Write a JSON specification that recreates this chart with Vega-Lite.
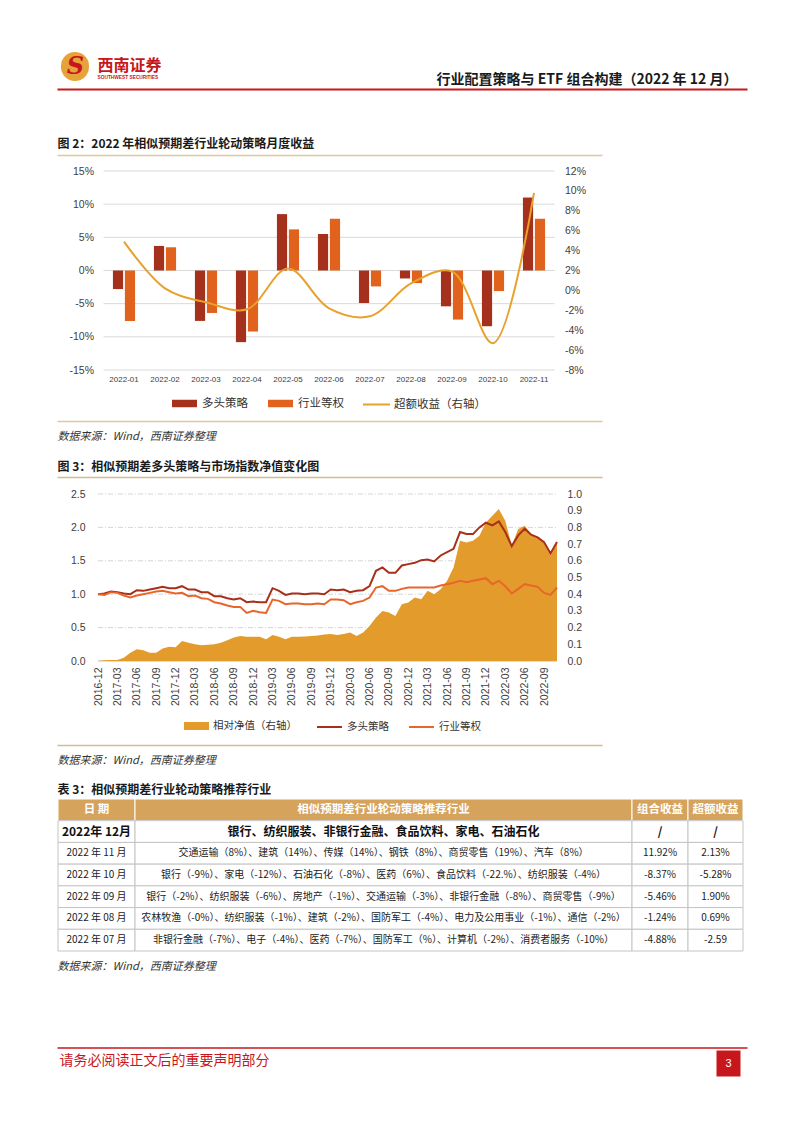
{
  "$schema": "https://vega.github.io/schema/vega-lite/v6.json",
  "width": 802,
  "height": 1133,
  "autosize": {"type": "none"},
  "padding": 0,
  "background": "#ffffff",
  "config": {
    "view": {"stroke": null},
    "font": "Noto Sans CJK SC",
    "axis": {"grid": false, "ticks": false, "tickSize": 0, "domain": false, "labelFont": "Liberation Sans", "labelColor": "#404040", "titleFont": "Noto Sans CJK SC", "titleAngle": 0},
    "legend": {"labelFont": "Noto Sans CJK SC", "labelColor": "#333333", "padding": 0}
  },
  "resolve": {
    "scale": {"x": "independent", "y": "independent", "color": "independent"},
    "axis": {"x": "independent", "y": "independent"},
    "legend": {"color": "independent"}
  },
  "datasets": {
    "unit": [{"u": 0}, {"u": 1}],
    "fig2grid": [{"v": -15}, {"v": -10}, {"v": -5}, {"v": 0}, {"v": 5}, {"v": 10}, {"v": 15}],
    "fig3grid": [{"v": 0}, {"v": 0.5}, {"v": 1}, {"v": 1.5}, {"v": 2}, {"v": 2.5}],
    "fig2": [
      {"m": "2022-01", "多头策略": -2.8, "行业等权": -7.6, "超额收益（右轴）": 4.9},
      {"m": "2022-02", "多头策略": 3.7, "行业等权": 3.5, "超额收益（右轴）": 0.2},
      {"m": "2022-03", "多头策略": -7.6, "行业等权": -6.4, "超额收益（右轴）": -1.2},
      {"m": "2022-04", "多头策略": -10.8, "行业等权": -9.2, "超额收益（右轴）": -1.9},
      {"m": "2022-05", "多头策略": 8.5, "行业等权": 6.2, "超额收益（右轴）": 2.2},
      {"m": "2022-06", "多头策略": 5.5, "行业等权": 7.8, "超额收益（右轴）": -1.8},
      {"m": "2022-07", "多头策略": -4.9, "行业等权": -2.4, "超额收益（右轴）": -2.6},
      {"m": "2022-08", "多头策略": -1.2, "行业等权": -1.9, "超额收益（右轴）": 0.7},
      {"m": "2022-09", "多头策略": -5.4, "行业等权": -7.4, "超额收益（右轴）": 1.9},
      {"m": "2022-10", "多头策略": -8.4, "行业等权": -3.1, "超额收益（右轴）": -5.3},
      {"m": "2022-11", "多头策略": 11.0, "行业等权": 7.8, "超额收益（右轴）": 9.8}
    ],
    "fig3": [
      {"d": "2016-12", "多头策略": 1.00, "行业等权": 1.00, "相对净值（右轴）": 0.00},
      {"d": "2017-01", "多头策略": 1.01, "行业等权": 0.99, "相对净值（右轴）": 0.005},
      {"d": "2017-02", "多头策略": 1.04, "行业等权": 1.03, "相对净值（右轴）": 0.006},
      {"d": "2017-03", "多头策略": 1.03, "行业等权": 1.02, "相对净值（右轴）": 0.006},
      {"d": "2017-04", "多头策略": 1.01, "行业等权": 0.98, "相对净值（右轴）": 0.02},
      {"d": "2017-05", "多头策略": 1.00, "行业等权": 0.95, "相对净值（右轴）": 0.05},
      {"d": "2017-06", "多头策略": 1.06, "行业等权": 0.98, "相对净值（右轴）": 0.07},
      {"d": "2017-07", "多头策略": 1.05, "行业等权": 1.00, "相对净值（右轴）": 0.065},
      {"d": "2017-08", "多头策略": 1.07, "行业等权": 1.02, "相对净值（右轴）": 0.05},
      {"d": "2017-09", "多头策略": 1.09, "行业等权": 1.04, "相对净值（右轴）": 0.05},
      {"d": "2017-10", "多头策略": 1.11, "行业等权": 1.05, "相对净值（右轴）": 0.075},
      {"d": "2017-11", "多头策略": 1.09, "行业等权": 1.03, "相对净值（右轴）": 0.085},
      {"d": "2017-12", "多头策略": 1.09, "行业等权": 1.01, "相对净值（右轴）": 0.083},
      {"d": "2018-01", "多头策略": 1.12, "行业等权": 1.02, "相对净值（右轴）": 0.12},
      {"d": "2018-02", "多头策略": 1.07, "行业等权": 0.97, "相对净值（右轴）": 0.11},
      {"d": "2018-03", "多头策略": 1.07, "行业等权": 0.98, "相对净值（右轴）": 0.10},
      {"d": "2018-04", "多头策略": 1.03, "行业等权": 0.94, "相对净值（右轴）": 0.095},
      {"d": "2018-05", "多头策略": 1.03, "行业等权": 0.93, "相对净值（右轴）": 0.097},
      {"d": "2018-06", "多头策略": 0.97, "行业等权": 0.88, "相对净值（右轴）": 0.10},
      {"d": "2018-07", "多头策略": 0.97, "行业等权": 0.86, "相对净值（右轴）": 0.11},
      {"d": "2018-08", "多头策略": 0.94, "行业等权": 0.83, "相对净值（右轴）": 0.125},
      {"d": "2018-09", "多头策略": 0.92, "行业等权": 0.81, "相对净值（右轴）": 0.14},
      {"d": "2018-10", "多头策略": 0.94, "行业等权": 0.81, "相对净值（右轴）": 0.15},
      {"d": "2018-11", "多头策略": 0.88, "行业等权": 0.72, "相对净值（右轴）": 0.145},
      {"d": "2018-12", "多头策略": 0.89, "行业等权": 0.75, "相对净值（右轴）": 0.145},
      {"d": "2019-01", "多头策略": 0.88, "行业等权": 0.73, "相对净值（右轴）": 0.145},
      {"d": "2019-02", "多头策略": 0.88, "行业等权": 0.72, "相对净值（右轴）": 0.13},
      {"d": "2019-03", "多头策略": 1.09, "行业等权": 0.92, "相对净值（右轴）": 0.155},
      {"d": "2019-04", "多头策略": 1.05, "行业等权": 0.90, "相对净值（右轴）": 0.145},
      {"d": "2019-05", "多头策略": 0.99, "行业等权": 0.85, "相对净值（右轴）": 0.13},
      {"d": "2019-06", "多头策略": 1.01, "行业等权": 0.86, "相对净值（右轴）": 0.145},
      {"d": "2019-07", "多头策略": 1.01, "行业等权": 0.86, "相对净值（右轴）": 0.145},
      {"d": "2019-08", "多头策略": 1.00, "行业等权": 0.85, "相对净值（右轴）": 0.147},
      {"d": "2019-09", "多头策略": 1.01, "行业等权": 0.85, "相对净值（右轴）": 0.15},
      {"d": "2019-10", "多头策略": 1.01, "行业等权": 0.86, "相对净值（右轴）": 0.152},
      {"d": "2019-11", "多头策略": 1.00, "行业等权": 0.85, "相对净值（右轴）": 0.158},
      {"d": "2019-12", "多头策略": 1.07, "行业等权": 0.92, "相对净值（右轴）": 0.162},
      {"d": "2020-01", "多头策略": 1.06, "行业等权": 0.92, "相对净值（右轴）": 0.155},
      {"d": "2020-02", "多头策略": 1.07, "行业等权": 0.91, "相对净值（右轴）": 0.162},
      {"d": "2020-03", "多头策略": 1.03, "行业等权": 0.85, "相对净值（右轴）": 0.17},
      {"d": "2020-04", "多头策略": 1.05, "行业等权": 0.88, "相对净值（右轴）": 0.15},
      {"d": "2020-05", "多头策略": 1.06, "行业等权": 0.90, "相对净值（右轴）": 0.17},
      {"d": "2020-06", "多头策略": 1.12, "行业等权": 0.95, "相对净值（右轴）": 0.21},
      {"d": "2020-07", "多头策略": 1.35, "行业等权": 1.10, "相对净值（右轴）": 0.26},
      {"d": "2020-08", "多头策略": 1.40, "行业等权": 1.12, "相对净值（右轴）": 0.30},
      {"d": "2020-09", "多头策略": 1.32, "行业等权": 1.05, "相对净值（右轴）": 0.29},
      {"d": "2020-10", "多头策略": 1.32, "行业等权": 1.05, "相对净值（右轴）": 0.27},
      {"d": "2020-11", "多头策略": 1.43, "行业等权": 1.08, "相对净值（右轴）": 0.34},
      {"d": "2020-12", "多头策略": 1.45, "行业等权": 1.10, "相对净值（右轴）": 0.35},
      {"d": "2021-01", "多头策略": 1.47, "行业等权": 1.10, "相对净值（右轴）": 0.38},
      {"d": "2021-02", "多头策略": 1.51, "行业等权": 1.10, "相对净值（右轴）": 0.37},
      {"d": "2021-03", "多头策略": 1.52, "行业等权": 1.10, "相对净值（右轴）": 0.42},
      {"d": "2021-04", "多头策略": 1.49, "行业等权": 1.10, "相对净值（右轴）": 0.40},
      {"d": "2021-05", "多头策略": 1.58, "行业等权": 1.13, "相对净值（右轴）": 0.43},
      {"d": "2021-06", "多头策略": 1.63, "行业等权": 1.15, "相对净值（右轴）": 0.48},
      {"d": "2021-07", "多头策略": 1.68, "行业等权": 1.17, "相对净值（右轴）": 0.56},
      {"d": "2021-08", "多头策略": 1.93, "行业等权": 1.20, "相对净值（右轴）": 0.72},
      {"d": "2021-09", "多头策略": 1.90, "行业等权": 1.18, "相对净值（右轴）": 0.71},
      {"d": "2021-10", "多头策略": 1.90, "行业等权": 1.20, "相对净值（右轴）": 0.72},
      {"d": "2021-11", "多头策略": 2.00, "行业等权": 1.22, "相对净值（右轴）": 0.75},
      {"d": "2021-12", "多头策略": 2.07, "行业等权": 1.24, "相对净值（右轴）": 0.83},
      {"d": "2022-01", "多头策略": 2.03, "行业等权": 1.15, "相对净值（右轴）": 0.87},
      {"d": "2022-02", "多头策略": 2.09, "行业等权": 1.20, "相对净值（右轴）": 0.91},
      {"d": "2022-03", "多头策略": 1.93, "行业等权": 1.12, "相对净值（右轴）": 0.84},
      {"d": "2022-04", "多头策略": 1.72, "行业等权": 1.01, "相对净值（右轴）": 0.69},
      {"d": "2022-05", "多头策略": 1.88, "行业等权": 1.08, "相对净值（右轴）": 0.79},
      {"d": "2022-06", "多头策略": 1.98, "行业等权": 1.15, "相对净值（右轴）": 0.81},
      {"d": "2022-07", "多头策略": 1.89, "行业等权": 1.13, "相对净值（右轴）": 0.76},
      {"d": "2022-08", "多头策略": 1.85, "行业等权": 1.11, "相对净值（右轴）": 0.74},
      {"d": "2022-09", "多头策略": 1.78, "行业等权": 1.02, "相对净值（右轴）": 0.71},
      {"d": "2022-10", "多头策略": 1.61, "行业等权": 0.99, "相对净值（右轴）": 0.63},
      {"d": "2022-11", "多头策略": 1.78, "行业等权": 1.10, "相对净值（右轴）": 0.71}
    ],
    "table": [
      {"k": "日期", "date": "日  期", "ind": "相似预期差行业轮动策略推荐行业", "ret": "组合收益", "exc": "超额收益"},
      {"k": "2022年12月", "date": "2022年 12月", "ind": "银行、纺织服装、非银行金融、食品饮料、家电、石油石化", "ret": "/", "exc": "/"},
      {"k": "2022年11月", "date": "2022 年 11 月", "ind": "交通运输（8%）、建筑（14%）、传媒（14%）、钢铁（8%）、商贸零售（19%）、汽车（8%）", "ret": "11.92%", "exc": "2.13%"},
      {"k": "2022年10月", "date": "2022 年 10 月", "ind": "银行（-9%）、家电（-12%）、石油石化（-8%）、医药（6%）、食品饮料（-22.%）、纺织服装（-4%）", "ret": "-8.37%", "exc": "-5.28%"},
      {"k": "2022年09月", "date": "2022 年 09 月", "ind": "银行（-2%）、纺织服装（-6%）、房地产（-1%）、交通运输（-3%）、非银行金融（-8%）、商贸零售（-9%）", "ret": "-5.46%", "exc": "1.90%"},
      {"k": "2022年08月", "date": "2022 年 08 月", "ind": "农林牧渔（-0%）、纺织服装（-1%）、建筑（-2%）、国防军工（-4%）、电力及公用事业（-1%）、通信（-2%）", "ret": "-1.24%", "exc": "0.69%"},
      {"k": "2022年07月", "date": "2022 年 07 月", "ind": "非银行金融（-7%）、电子（-4%）、医药（-7%）、国防军工（%）、计算机（-2%）、消费者服务（-10%）", "ret": "-4.88%", "exc": "-2.59"}
    ],
    "cols": [
      {"key": "date", "c0": 0, "c1": 1, "cm": 0.5},
      {"key": "ind", "c0": 1, "c1": 2, "cm": 1.5},
      {"key": "ret", "c0": 2, "c1": 3, "cm": 2.5},
      {"key": "exc", "c0": 3, "c1": 4, "cm": 3.5}
    ]
  },
  "layer": [
    {
      "data": {"name": "unit"},
      "mark": {"type": "point", "opacity": 0},
      "encoding": {
        "x": {"field": "u", "type": "quantitative", "scale": {"domain": [0, 1], "range": [57, 747], "nice": false, "zero": false},
          "axis": {"orient": "top", "offset": -89, "domain": true, "domainColor": "#C8161D", "domainWidth": 2, "labels": false, "title": "行业配置策略与 ETF 组合构建（2022 年 12 月）", "titleX": 737, "titleY": -10, "titleAlign": "right", "titleBaseline": "middle", "titleFontSize": 14, "titleFontWeight": "bold", "titleColor": "#1a1a1a"}},
        "y": {"field": "u", "type": "quantitative", "scale": {"domain": [0, 1], "range": [65.5, 66.5], "nice": false, "zero": false},
          "axis": {"orient": "left", "offset": -74.5, "domain": true, "domainColor": "#E5A33A", "domainWidth": 28, "domainCap": "round", "labels": false, "title": "西南证券", "titleX": 22.5, "titleY": 65, "titleAlign": "left", "titleBaseline": "middle", "titleFontSize": 16, "titleFontWeight": "bold", "titleColor": "#C8161D"}}
      }
    },
    {
      "data": {"name": "unit"},
      "mark": {"type": "point", "opacity": 0},
      "encoding": {
        "x": {"field": "u", "type": "quantitative", "scale": {"domain": [0, 1], "range": [0, 1], "nice": false, "zero": false},
          "axis": {"orient": "top", "offset": 0, "labels": false, "title": "SOUTHWEST SECURITIES", "titleX": 97, "titleY": 77, "titleAlign": "left", "titleBaseline": "middle", "titleFontSize": 4.8, "titleFont": "Liberation Sans", "titleFontWeight": "bold", "titleColor": "#C8161D"}},
        "y": {"field": "u", "type": "quantitative", "scale": {"domain": [0, 1], "range": [0, 1], "nice": false, "zero": false},
          "axis": {"orient": "left", "offset": 0, "labels": false, "title": "S", "titleX": 75, "titleY": 66, "titleAlign": "center", "titleBaseline": "middle", "titleFont": "DejaVu Serif", "titleFontSize": 24, "titleFontWeight": "bold", "titleFontStyle": "italic", "titleColor": "#C8161D"}}
      }
    },
    {
      "data": {"name": "unit"},
      "mark": {"type": "point", "opacity": 0},
      "encoding": {
        "x": {"field": "u", "type": "quantitative", "scale": {"domain": [0, 1], "range": [57, 602], "nice": false, "zero": false},
          "axis": {"orient": "top", "offset": -155, "domain": true, "domainColor": "#E2C69D", "domainWidth": 1.3, "labels": false, "title": "图 2：2022 年相似预期差行业轮动策略月度收益", "titleX": 57, "titleY": -12, "titleAlign": "left", "titleBaseline": "middle", "titleFontSize": 12, "titleFontWeight": "bold", "titleColor": "#1a1a1a"}}
      }
    },
    {
      "data": {"name": "fig2grid"},
      "mark": {"type": "rule", "color": "#D9D9D9", "strokeWidth": 1},
      "encoding": {
        "x": {"datum": 0, "type": "quantitative", "scale": {"domain": [0, 1], "range": [103.5, 554.5], "nice": false, "zero": false}, "axis": null},
        "x2": {"datum": 1},
        "y": {"field": "v", "type": "quantitative", "scale": {"domain": [-15, 15], "range": [370, 171], "nice": false, "zero": false}, "axis": null}
      }
    },
    {
      "data": {"name": "fig2"},
      "resolve": {"scale": {"y": "independent", "color": "independent"}, "axis": {"y": "independent"}, "legend": {"color": "independent"}},
      "layer": [
        {
          "transform": [{"fold": ["多头策略", "行业等权"], "as": ["s", "v"]}],
          "mark": {"type": "bar"},
          "encoding": {
            "x": {"field": "m", "type": "ordinal", "sort": null, "scale": {"type": "band", "range": [103.5, 554.5], "paddingInner": 0.46, "paddingOuter": 0.23},
              "axis": {"orient": "bottom", "offset": -763, "title": null, "labelFontSize": 8, "labelPadding": 5, "labelAngle": 0, "labelColor": "#404040"}},
            "xOffset": {"field": "s", "type": "nominal", "sort": ["多头策略", "行业等权"], "scale": {"paddingInner": 0.15}},
            "y": {"field": "v", "type": "quantitative", "scale": {"domain": [-15, 15], "range": [370, 171], "nice": false, "zero": false},
              "axis": {"orient": "left", "offset": -103.5, "values": [-15, -10, -5, 0, 5, 10, 15], "labelExpr": "datum.value + '%'", "title": null, "labelPadding": 10, "labelFontSize": 10.5}},
            "color": {"field": "s", "type": "nominal", "scale": {"domain": ["多头策略", "行业等权"], "range": ["#A5301B", "#E0621D"]},
              "legend": {"orient": "none", "legendX": 172, "legendY": 391, "direction": "horizontal", "title": null, "symbolType": "M-1,-0.3H1V0.3H-1Z", "symbolSize": 625, "symbolStrokeWidth": 0, "labelFontSize": 11.5, "labelOffset": 5, "columnPadding": 20}}
          }
        },
        {
          "transform": [{"fold": ["超额收益（右轴）"], "as": ["s", "v"]}],
          "mark": {"type": "line", "interpolate": "catmull-rom", "strokeWidth": 2},
          "encoding": {
            "x": {"field": "m", "type": "ordinal", "sort": null},
            "y": {"field": "v", "type": "quantitative", "scale": {"domain": [-8, 12], "range": [370, 171], "nice": false, "zero": false},
              "axis": {"orient": "right", "offset": -247.5, "values": [-8, -6, -4, -2, 0, 2, 4, 6, 8, 10, 12], "labelExpr": "datum.value + '%'", "title": null, "labelPadding": 10, "labelFontSize": 10.5}},
            "color": {"field": "s", "type": "nominal", "scale": {"domain": ["超额收益（右轴）"], "range": ["#E8A12B"]},
              "legend": {"orient": "none", "legendX": 362, "legendY": 390, "direction": "horizontal", "title": null, "symbolType": "stroke", "symbolSize": 729, "symbolStrokeWidth": 2, "labelFontSize": 11.5, "labelOffset": 3}}
          }
        }
      ]
    },
    {
      "data": {"name": "unit"},
      "mark": {"type": "point", "opacity": 0},
      "encoding": {
        "x": {"field": "u", "type": "quantitative", "scale": {"domain": [0, 1], "range": [57, 602], "nice": false, "zero": false},
          "axis": {"orient": "top", "offset": -421, "domain": true, "domainColor": "#E2C69D", "domainWidth": 1.3, "labels": false, "title": "数据来源：Wind，西南证券整理", "titleX": 57, "titleY": 15, "titleAlign": "left", "titleBaseline": "middle", "titleFontSize": 11, "titleFontWeight": "normal", "titleFontStyle": "italic", "titleColor": "#333333"}}
      }
    },
    {
      "data": {"name": "unit"},
      "mark": {"type": "point", "opacity": 0},
      "encoding": {
        "x": {"field": "u", "type": "quantitative", "scale": {"domain": [0, 1], "range": [57, 602], "nice": false, "zero": false},
          "axis": {"orient": "top", "offset": -477, "domain": true, "domainColor": "#D2BE8A", "domainWidth": 1.3, "labels": false, "title": "图 3：相似预期差多头策略与市场指数净值变化图", "titleX": 57, "titleY": -11, "titleAlign": "left", "titleBaseline": "middle", "titleFontSize": 12, "titleFontWeight": "bold", "titleColor": "#1a1a1a"}}
      }
    },
    {
      "data": {"name": "fig3grid"},
      "mark": {"type": "rule", "strokeWidth": 1},
      "encoding": {
        "x": {"datum": 0, "type": "quantitative", "scale": {"domain": [0, 1], "range": [98, 557], "nice": false, "zero": false}, "axis": null},
        "x2": {"datum": 1},
        "y": {"field": "v", "type": "quantitative", "scale": {"domain": [0, 2.5], "range": [661, 494], "nice": false, "zero": false}, "axis": null},
        "color": {"condition": {"test": "datum.v === 0", "value": "#BFBFBF"}, "value": "#D6D6D6"},
        "strokeDash": {"condition": {"test": "datum.v === 0", "value": [1, 0]}, "value": [5, 2, 1, 2]}
      }
    },
    {
      "data": {"name": "fig3"},
      "resolve": {"scale": {"y": "independent", "color": "independent"}, "axis": {"y": "independent"}, "legend": {"color": "independent"}},
      "layer": [
        {
          "transform": [{"fold": ["相对净值（右轴）"], "as": ["s", "v"]}],
          "mark": {"type": "area", "opacity": 1},
          "encoding": {
            "x": {"field": "d", "type": "ordinal", "sort": null, "scale": {"type": "point", "range": [98, 557], "padding": 0},
              "axis": {"orient": "bottom", "offset": -472, "title": null, "values": ["2016-12", "2017-03", "2017-06", "2017-09", "2017-12", "2018-03", "2018-06", "2018-09", "2018-12", "2019-03", "2019-06", "2019-09", "2019-12", "2020-03", "2020-06", "2020-09", "2020-12", "2021-03", "2021-06", "2021-09", "2021-12", "2022-03", "2022-06", "2022-09"], "labelAngle": -90, "labelAlign": "right", "labelBaseline": "middle", "labelFontSize": 10.5, "labelPadding": 6, "labelOverlap": false}},
            "y": {"field": "v", "type": "quantitative", "scale": {"domain": [0, 1], "range": [661, 494], "nice": false, "zero": false},
              "axis": {"orient": "right", "offset": -245, "values": [0, 0.1, 0.2, 0.3, 0.4, 0.5, 0.6, 0.7, 0.8, 0.9, 1.0], "format": ".1f", "title": null, "labelPadding": 10, "labelFontSize": 10.5}},
            "color": {"field": "s", "type": "nominal", "scale": {"domain": ["相对净值（右轴）"], "range": ["#E39C2B"]},
              "legend": {"orient": "none", "legendX": 184, "legendY": 713.5, "direction": "horizontal", "title": null, "symbolType": "M-1,-0.32H1V0.32H-1Z", "symbolSize": 625, "symbolStrokeWidth": 0, "labelFontSize": 10.5, "labelOffset": 4}}
          }
        },
        {
          "transform": [{"fold": ["多头策略", "行业等权"], "as": ["s", "v"]}],
          "mark": {"type": "line", "strokeWidth": 2},
          "encoding": {
            "x": {"field": "d", "type": "ordinal", "sort": null},
            "y": {"field": "v", "type": "quantitative", "scale": {"domain": [0, 2.5], "range": [661, 494], "nice": false, "zero": false},
              "axis": {"orient": "left", "offset": -98, "values": [0, 0.5, 1, 1.5, 2, 2.5], "format": ".1f", "title": null, "labelPadding": 13, "labelFontSize": 10.5}},
            "color": {"field": "s", "type": "nominal", "scale": {"domain": ["多头策略", "行业等权"], "range": ["#A82F19", "#E8662B"]},
              "legend": {"orient": "none", "legendX": 316, "legendY": 713.5, "direction": "horizontal", "title": null, "symbolType": "stroke", "symbolSize": 625, "symbolStrokeWidth": 2, "labelFontSize": 10.5, "labelOffset": 4, "columnPadding": 16}}
          }
        }
      ]
    },
    {
      "data": {"name": "unit"},
      "mark": {"type": "point", "opacity": 0},
      "encoding": {
        "x": {"field": "u", "type": "quantitative", "scale": {"domain": [0, 1], "range": [57, 602], "nice": false, "zero": false},
          "axis": {"orient": "top", "offset": -745, "domain": true, "domainColor": "#D2BE8A", "domainWidth": 1.3, "labels": false, "title": "数据来源：Wind，西南证券整理", "titleX": 57, "titleY": 15, "titleAlign": "left", "titleBaseline": "middle", "titleFontSize": 11, "titleFontWeight": "normal", "titleFontStyle": "italic", "titleColor": "#333333"}}
      }
    },
    {
      "data": {"name": "unit"},
      "mark": {"type": "point", "opacity": 0},
      "encoding": {
        "x": {"field": "u", "type": "quantitative", "scale": {"domain": [0, 1], "range": [0, 1], "nice": false, "zero": false},
          "axis": {"orient": "top", "offset": 0, "labels": false, "title": "表 3：相似预期差行业轮动策略推荐行业", "titleX": 57, "titleY": 789, "titleAlign": "left", "titleBaseline": "middle", "titleFontSize": 12, "titleFontWeight": "bold", "titleColor": "#1a1a1a"}},
        "y": {"field": "u", "type": "quantitative", "scale": {"domain": [0, 1], "range": [0, 1], "nice": false, "zero": false},
          "axis": {"orient": "left", "offset": 0, "labels": false, "title": "数据来源：Wind，西南证券整理", "titleX": 57, "titleY": 966, "titleAlign": "left", "titleBaseline": "middle", "titleFontSize": 11, "titleFontWeight": "normal", "titleFontStyle": "italic", "titleColor": "#333333"}}
      }
    },
    {
      "data": {"name": "table"},
      "transform": [
        {"fold": ["date", "ind", "ret", "exc"], "as": ["key", "val"]},
        {"lookup": "key", "from": {"data": {"name": "cols"}, "key": "key", "fields": ["c0", "c1", "cm"]}}
      ],
      "layer": [
        {
          "mark": {"type": "rect", "strokeWidth": 1},
          "encoding": {
            "x": {"field": "c0", "type": "quantitative", "scale": {"domain": [0, 1, 2, 3, 4], "range": [58, 135, 632, 688, 743], "nice": false, "zero": false}, "axis": null},
            "x2": {"field": "c1"},
            "y": {"field": "k", "type": "nominal", "sort": null, "scale": {"type": "band", "domain": ["日期", "2022年12月", "2022年11月", "2022年10月", "2022年09月", "2022年08月", "2022年07月"], "range": [799, 951], "paddingInner": 0, "paddingOuter": 0}, "axis": null},
            "fill": {"condition": {"test": "datum.k === '日期'", "value": "#D6A35C"}, "value": "#ffffff"},
            "stroke": {"condition": {"test": "datum.k === '日期'", "value": "#ffffff"}, "value": "#C4C4C4"}
          }
        },
        {
          "transform": [{"filter": "datum.k === '日期'"}],
          "mark": {"type": "text", "color": "#ffffff", "fontWeight": "bold", "fontSize": 11.5, "align": "center", "baseline": "middle"},
          "encoding": {
            "x": {"field": "cm", "type": "quantitative", "axis": null},
            "y": {"field": "k", "type": "nominal", "sort": null, "axis": null},
            "text": {"field": "val"}
          }
        },
        {
          "transform": [{"filter": "datum.k === '2022年12月'"}],
          "mark": {"type": "text", "color": "#111111", "fontWeight": "bold", "fontSize": 12, "align": "center", "baseline": "middle"},
          "encoding": {
            "x": {"field": "cm", "type": "quantitative", "axis": null},
            "y": {"field": "k", "type": "nominal", "sort": null, "axis": null},
            "text": {"field": "val"}
          }
        },
        {
          "transform": [{"filter": "datum.k !== '日期' && datum.k !== '2022年12月'"}],
          "mark": {"type": "text", "color": "#222222", "fontSize": 10, "align": "center", "baseline": "middle"},
          "encoding": {
            "x": {"field": "cm", "type": "quantitative", "axis": null},
            "y": {"field": "k", "type": "nominal", "sort": null, "axis": null},
            "text": {"field": "val"}
          }
        }
      ]
    },
    {
      "data": {"name": "unit"},
      "mark": {"type": "point", "opacity": 0},
      "encoding": {
        "x": {"field": "u", "type": "quantitative", "scale": {"domain": [0, 1], "range": [57, 747], "nice": false, "zero": false},
          "axis": {"orient": "top", "offset": -1047.5, "domain": true, "domainColor": "#C8161D", "domainWidth": 1.5, "labels": false, "title": "请务必阅读正文后的重要声明部分", "titleX": 59, "titleY": 13, "titleAlign": "left", "titleBaseline": "middle", "titleFontSize": 14, "titleFontWeight": "normal", "titleColor": "#C8161D"}},
        "y": {"field": "u", "type": "quantitative", "scale": {"domain": [0, 1], "range": [1050, 1076], "nice": false, "zero": false},
          "axis": {"orient": "left", "offset": -728, "domain": true, "domainColor": "#C8161D", "domainWidth": 24, "labels": false, "title": "3", "titleX": 0, "titleY": 1063, "titleAlign": "center", "titleBaseline": "middle", "titleFont": "Liberation Sans", "titleFontSize": 11, "titleFontWeight": "normal", "titleColor": "#ffffff"}}
      }
    }
  ]
}
